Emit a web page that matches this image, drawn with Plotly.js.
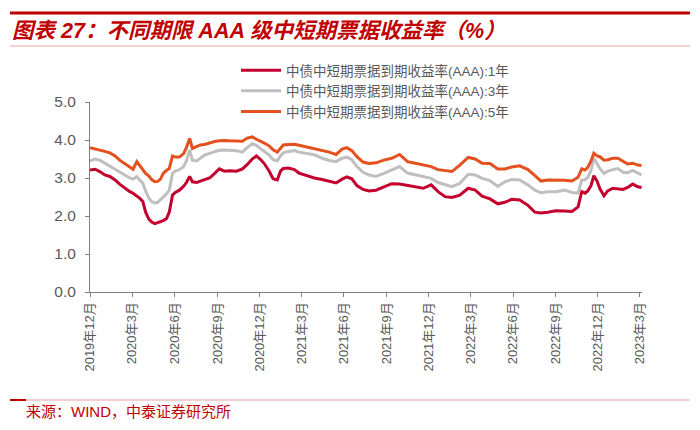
<!DOCTYPE html>
<html>
<head>
<meta charset="utf-8">
<script src="https://cdn.plot.ly/plotly-3.0.1.min.js"></script>
<style>
  html, body { margin: 0; padding: 0; background: #fff; }
  #chart { width: 700px; height: 430px; }
</style>
</head>
<body>
<div id="chart"></div>
<script>
/* global Plotly */

const dates = [
    '2019-12-01', '2019-12-12', '2019-12-22', '2020-01-02', '2020-01-13', '2020-01-24', '2020-02-03', '2020-02-14',
    '2020-02-25', '2020-03-03', '2020-03-11', '2020-03-17', '2020-03-24', '2020-03-30', '2020-04-06', '2020-04-12',
    '2020-04-19', '2020-04-25', '2020-05-01', '2020-05-07', '2020-05-14', '2020-05-20', '2020-05-27', '2020-06-02',
    '2020-06-11', '2020-06-20', '2020-06-26', '2020-07-03', '2020-07-09', '2020-07-18', '2020-07-26', '2020-08-04',
    '2020-08-15', '2020-08-26', '2020-09-05', '2020-09-16', '2020-09-27', '2020-10-12', '2020-10-25', '2020-11-04',
    '2020-11-15', '2020-11-24', '2020-12-02', '2020-12-11', '2020-12-22', '2020-12-30', '2021-01-08', '2021-01-15',
    '2021-01-21', '2021-02-01', '2021-02-14', '2021-02-24', '2021-03-11', '2021-03-29', '2021-04-15', '2021-04-30',
    '2021-05-15', '2021-05-28', '2021-06-07', '2021-06-18', '2021-06-29', '2021-07-12', '2021-07-25', '2021-08-09',
    '2021-08-26', '2021-09-12', '2021-09-29', '2021-10-16', '2021-11-02', '2021-11-19', '2021-12-06', '2021-12-21',
    '2022-01-05', '2022-01-20', '2022-02-06', '2022-02-24', '2022-03-11', '2022-03-26', '2022-04-12', '2022-04-29',
    '2022-05-14', '2022-05-29', '2022-06-15', '2022-07-03', '2022-07-18', '2022-07-31', '2022-08-15', '2022-09-01',
    '2022-09-19', '2022-10-06', '2022-10-19', '2022-10-27', '2022-11-03', '2022-11-09', '2022-11-16', '2022-11-22',
    '2022-11-29', '2022-12-05', '2022-12-14', '2022-12-22', '2023-01-02', '2023-01-13', '2023-01-24', '2023-02-03',
    '2023-02-14', '2023-02-25', '2023-03-05'
];

const yield1y = [
    3.21, 3.23, 3.17, 3.08, 3.04, 2.95, 2.84, 2.73,
    2.64, 2.60, 2.53, 2.47, 2.38, 2.10, 1.92, 1.84,
    1.80, 1.82, 1.86, 1.88, 1.93, 2.10, 2.55, 2.62,
    2.68, 2.78, 2.88, 3.04, 2.90, 2.88, 2.92, 2.95,
    3.00, 3.12, 3.24, 3.18, 3.19, 3.18, 3.24, 3.35,
    3.50, 3.58, 3.50, 3.38, 3.17, 2.98, 2.95, 3.18,
    3.25, 3.26, 3.22, 3.13, 3.07, 3.00, 2.96, 2.92,
    2.87, 2.97, 3.03, 2.98, 2.80, 2.70, 2.66, 2.68,
    2.77, 2.85, 2.84, 2.80, 2.77, 2.73, 2.82, 2.64,
    2.51, 2.49, 2.55, 2.73, 2.68, 2.52, 2.45, 2.32,
    2.36, 2.44, 2.42, 2.28, 2.10, 2.08, 2.10, 2.14,
    2.13, 2.12, 2.24, 2.64, 2.60, 2.66, 2.80, 3.06,
    2.92, 2.72, 2.53, 2.66, 2.73, 2.72, 2.70, 2.75,
    2.84, 2.77, 2.75
];

const yield3y = [
    3.45, 3.50, 3.47, 3.39, 3.30, 3.21, 3.14, 3.08,
    3.00, 2.97, 3.04, 2.95, 2.86, 2.66, 2.47, 2.38,
    2.34, 2.36, 2.43, 2.50, 2.58, 2.68, 3.12, 3.18,
    3.22, 3.30, 3.45, 3.74, 3.47, 3.45, 3.52, 3.60,
    3.65, 3.69, 3.73, 3.74, 3.73, 3.72, 3.68, 3.80,
    3.90, 3.86, 3.78, 3.70, 3.60, 3.48, 3.45, 3.58,
    3.66, 3.70, 3.72, 3.68, 3.64, 3.61, 3.52, 3.46,
    3.43, 3.52, 3.55, 3.48, 3.30, 3.15, 3.08, 3.04,
    3.12, 3.20, 3.30, 3.13, 3.08, 3.03, 2.99, 2.88,
    2.82, 2.77, 2.86, 3.10, 3.08, 2.99, 2.93, 2.78,
    2.90, 2.96, 2.95, 2.82, 2.68, 2.61, 2.64, 2.64,
    2.68, 2.62, 2.60, 2.95, 2.95, 3.02, 3.20, 3.52,
    3.38, 3.25, 3.12, 3.18, 3.22, 3.25, 3.15, 3.14,
    3.20, 3.12, 3.08
];

const yield5y = [
    3.80, 3.77, 3.74, 3.70, 3.66, 3.58, 3.47, 3.38,
    3.30, 3.23, 3.43, 3.34, 3.22, 3.12, 3.05, 2.96,
    2.90, 2.91, 2.97, 3.12, 3.20, 3.25, 3.58, 3.55,
    3.55, 3.64, 3.80, 4.04, 3.78, 3.82, 3.87, 3.88,
    3.93, 3.96, 3.98, 3.99, 3.98, 3.98, 3.97, 4.05,
    4.08, 4.02, 3.98, 3.92, 3.84, 3.74, 3.68, 3.80,
    3.87, 3.88, 3.89, 3.86, 3.82, 3.78, 3.74, 3.68,
    3.62, 3.76, 3.80, 3.72, 3.56, 3.42, 3.38, 3.40,
    3.47, 3.52, 3.62, 3.43, 3.39, 3.34, 3.30, 3.22,
    3.19, 3.17, 3.34, 3.54, 3.50, 3.39, 3.38, 3.24,
    3.24, 3.29, 3.32, 3.22, 3.06, 2.92, 2.95, 2.95,
    2.94, 2.92, 3.02, 3.24, 3.21, 3.28, 3.45, 3.65,
    3.58, 3.56, 3.47, 3.48, 3.52, 3.52, 3.45, 3.37,
    3.39, 3.34, 3.33
];

const seriesNames = [
    '中债中短期票据到期收益率(AAA):1年',
    '中债中短期票据到期收益率(AAA):3年',
    '中债中短期票据到期收益率(AAA):5年'
];
const seriesColors = ['#C4002F', '#BFBFBF', '#E4501E'];

const tickDates = [
    '2019-12-01', '2020-03-01', '2020-06-01', '2020-09-01', '2020-12-01', '2021-03-01', '2021-06-01',
    '2021-09-01', '2021-12-01', '2022-03-01', '2022-06-01', '2022-09-01', '2022-12-01', '2023-03-01'
];
const tickLabels = [
    '2019年12月', '2020年3月', '2020年6月', '2020年9月', '2020年12月', '2021年3月', '2021年6月',
    '2021年9月', '2021年12月', '2022年3月', '2022年6月', '2022年9月', '2022年12月', '2023年3月'
];

const FONT = 'Arial, "Liberation Sans", "Noto Sans CJK SC", sans-serif';

// plot area in pixels: x 90..642, y 102..292
const PL = 90, PR = 642, PT = 102, PB = 292;
const px = v => (v - PL) / (PR - PL);
const py = v => (PB - v) / (PB - PT);

function hline(y, x0, x1, color, width) {
    return {
        type: 'line', xref: 'paper', yref: 'paper',
        x0: px(x0), x1: px(x1), y0: py(y), y1: py(y),
        line: { color, width }
    };
}

const data = [yield1y, yield3y, yield5y].map((vals, i) => ({
    x: dates,
    y: vals,
    type: 'scatter',
    mode: 'lines',
    name: seriesNames[i],
    line: { color: seriesColors[i], width: 3 }
}));

const layout = {
    width: 700,
    height: 430,
    margin: { l: PL, r: 700 - PR, t: PT, b: 430 - PB },
    paper_bgcolor: '#fff',
    plot_bgcolor: '#fff',
    font: { family: FONT, color: '#595959' },
    title: {
        text: '图表 27：不同期限 AAA 级中短期票据收益率（%）',
        x: 12 / 700, xanchor: 'left',
        y: 1 - 30 / 430, yanchor: 'middle',
        font: { size: 21.5, color: '#C00000', weight: 'bold', style: 'italic', family: FONT }
    },
    xaxis: {
        type: 'date',
        range: ['2019-12-01', '2023-03-06'],
        tickvals: tickDates,
        ticktext: tickLabels,
        tickangle: -90,
        ticks: 'outside',
        ticklen: 4,
        tickcolor: '#808080',
        showline: true,
        linecolor: '#808080',
        linewidth: 1,
        showgrid: false,
        zeroline: false,
        tickfont: { size: 13, color: '#595959' },
        fixedrange: true
    },
    yaxis: {
        range: [0, 5],
        dtick: 1,
        tickformat: '.1f',
        ticks: 'outside',
        ticklen: 4,
        tickcolor: '#808080',
        showline: true,
        linecolor: '#808080',
        linewidth: 1,
        showgrid: false,
        zeroline: false,
        tickfont: { size: 15.5, color: '#595959' },
        ticklabelstandoff: 6,
        fixedrange: true
    },
    showlegend: true,
    legend: {
        x: px(236), y: py(55),
        xanchor: 'left', yanchor: 'top',
        bgcolor: 'rgba(0,0,0,0)',
        font: { size: 13.5, color: '#595959', family: FONT },
        tracegroupgap: 0,
        itemwidth: 40
    },
    shapes: [
        hline(13, 10, 690, '#C00000', 3),
        hline(46, 10, 690, '#E8A0A0', 1),
        hline(400, 10, 690, '#E8A0A0', 1),
        hline(400, 10, 26, '#C00000', 2)
    ],
    annotations: [{
        xref: 'paper', yref: 'paper',
        x: px(24), y: py(411),
        xanchor: 'left', yanchor: 'middle',
        showarrow: false,
        text: '来源：WIND，中泰证券研究所',
        font: { size: 15, color: '#C00000', family: FONT }
    }]
};

Plotly.newPlot('chart', data, layout, {
    displaylogo: false,
    displayModeBar: false,
    staticPlot: true
});
</script>
</body>
</html>
